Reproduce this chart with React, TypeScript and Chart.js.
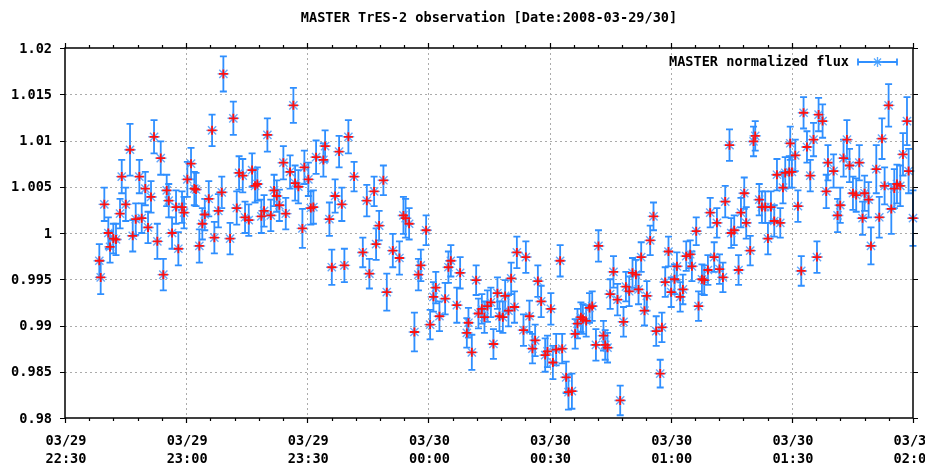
import React, { useEffect, useRef } from 'react';
import { Chart, registerables } from 'chart.js';

Chart.register(...registerables);

// Observation time, minutes after 03/29 22:30
const minutes = [
  8.50, 8.84, 9.74, 10.73, 11.15, 11.97, 12.63, 13.63, 14.05, 15.04,
  16.10, 16.77, 17.51, 18.41, 19.00, 19.89, 20.56, 21.30, 22.05, 22.87,
  23.71, 24.35, 25.19, 25.69, 26.51, 27.50, 28.07, 28.98, 29.48, 30.30,
  31.21, 32.03, 32.45, 33.27, 34.01, 34.61, 35.60, 36.42, 36.99, 37.98,
  38.82, 39.22, 40.88, 41.69, 42.53, 43.11, 44.02, 44.59, 45.51, 46.33,
  47.07, 47.64, 48.63, 49.30, 50.12, 50.96, 51.78, 52.44, 53.09, 54.08,
  54.67, 55.74, 56.56, 56.98, 57.80, 58.79, 59.28, 60.27, 60.87, 61.51,
  62.18, 63.99, 64.41, 65.48, 66.07, 66.89, 67.88, 68.55, 69.19, 70.18,
  71.59, 73.75, 74.74, 75.38, 76.55, 77.04, 77.79, 78.85, 79.69, 81.18,
  82.82, 83.81, 84.35, 85.22, 86.53, 87.52, 88.12, 89.43, 90.42, 91.24,
  91.83, 92.73, 94.14, 94.95, 95.55, 97.04, 97.85, 99.51, 99.91, 100.75,
  101.82, 102.39, 103.23, 103.87, 104.62, 105.46, 106.10, 107.09, 107.59, 108.43,
  109.00, 109.82, 110.49, 111.31, 111.90, 113.54, 114.13, 115.02, 115.76, 116.43,
  117.10, 117.92, 118.91, 119.48, 120.32, 120.82, 121.63, 122.62, 123.12, 124.11,
  124.68, 125.53, 126.34, 126.91, 127.76, 128.25, 129.07, 129.89, 130.56, 131.48,
  132.11, 133.35, 133.77, 134.35, 135.01, 135.83, 136.82, 137.49, 138.31, 138.90,
  139.72, 140.54, 141.38, 142.03, 142.69, 143.51, 144.10, 144.92, 145.74, 146.41,
  147.40, 147.82, 148.64, 149.45, 150.12, 150.94, 151.54, 152.35, 153.02, 153.84,
  154.83, 155.25, 156.32, 156.89, 157.73, 158.30, 159.21, 159.78, 160.77, 161.44,
  162.08, 162.93, 163.50, 164.56, 164.98, 165.73, 166.80, 167.39, 168.21, 168.70,
  169.69, 170.51, 170.93, 171.92, 172.59, 173.41, 174.08, 174.82, 175.64, 176.31,
  177.13, 177.80, 178.36, 179.36, 179.60, 180.02, 180.84, 181.51, 182.33, 182.90,
  183.74, 184.56, 185.37, 186.22, 186.62, 187.61, 188.52, 188.94, 190.33, 191.32,
  191.98, 192.80, 193.64, 194.28, 195.13, 195.94, 196.70, 197.51, 198.01, 199.00,
  199.59, 200.91, 201.65, 202.32, 202.97, 203.96, 204.63, 205.37, 206.03, 206.85,
  207.52, 208.51, 208.91, 209.99,
];

// MASTER normalized flux
const flux = [
  0.9970, 0.9952, 1.0031, 1.0000, 0.9985, 0.9994, 0.9993, 1.0021, 1.0061, 1.0031,
  1.0090, 0.9997, 1.0015, 1.0061, 1.0016, 1.0048, 1.0006, 1.0039, 1.0104, 0.9991,
  1.0081, 0.9955, 1.0046, 1.0035, 1.0000, 1.0028, 0.9983, 1.0028, 1.0022, 1.0058,
  1.0075, 1.0048, 1.0047, 0.9986, 1.0010, 1.0020, 1.0037, 1.0111, 0.9995, 1.0024,
  1.0044, 1.0172, 0.9994, 1.0124, 1.0027, 1.0065, 1.0062, 1.0017, 1.0014, 1.0068,
  1.0051, 1.0053, 1.0018, 1.0024, 1.0106, 1.0019, 1.0046, 1.0040, 1.0030, 1.0076,
  1.0021, 1.0066, 1.0138, 1.0054, 1.0050, 1.0005, 1.0071, 1.0058, 1.0027, 1.0028,
  1.0082, 1.0079, 1.0094, 1.0015, 0.9963, 1.0040, 1.0088, 1.0031, 0.9965, 1.0104,
  1.0061, 0.9979, 1.0035, 0.9956, 1.0045, 0.9988, 1.0008, 1.0057, 0.9936, 0.9981,
  0.9973, 1.0019, 1.0016, 1.0010, 0.9893, 0.9955, 0.9965, 1.0003, 0.9901, 0.9931,
  0.9941, 0.9910, 0.9929, 0.9963, 0.9970, 0.9922, 0.9957, 0.9892, 0.9903, 0.9871,
  0.9949, 0.9913, 0.9918, 0.9909, 0.9921, 0.9925, 0.9880, 0.9935, 0.9910, 0.9909,
  0.9932, 0.9916, 0.9951, 0.9920, 0.9979, 0.9895, 0.9974, 0.9910, 0.9875, 0.9884,
  0.9948, 0.9926, 0.9868, 0.9872, 0.9918, 0.9860, 0.9874, 0.9970, 0.9875, 0.9844,
  0.9828, 0.9829, 0.9891, 0.9902, 0.9909, 0.9907, 0.9905, 0.9919, 0.9921, 0.9879,
  0.9986, 0.9889, 0.9879, 0.9876, 0.9934, 0.9958, 0.9928, 0.9819, 0.9904, 0.9942,
  0.9937, 0.9957, 0.9955, 0.9939, 0.9974, 0.9916, 0.9932, 0.9992, 1.0018, 0.9894,
  0.9848, 0.9898, 0.9947, 0.9980, 0.9936, 0.9950, 0.9964, 0.9931, 0.9939, 0.9975,
  0.9977, 0.9964, 1.0002, 0.9921, 0.9950, 0.9949, 0.9960, 1.0022, 0.9974, 1.0011,
  0.9961, 0.9952, 1.0034, 1.0095, 1.0000, 1.0003, 0.9960, 1.0022, 1.0043, 1.0011,
  0.9981, 1.0099, 1.0105, 1.0036, 1.0028, 1.0028, 0.9994, 1.0028, 1.0013, 1.0063,
  1.0011, 1.0049, 1.0065, 1.0066, 1.0097, 1.0066, 1.0084, 1.0029, 0.9959, 1.0130,
  1.0093, 1.0062, 1.0101, 0.9974, 1.0128, 1.0121, 1.0045, 1.0076, 1.0067, 1.0019,
  1.0030, 1.0081, 1.0101, 1.0073, 1.0043, 1.0041, 1.0076, 1.0016, 1.0043, 1.0036,
  0.9986, 1.0069, 1.0017, 1.0102, 1.0051, 1.0138, 1.0026, 1.0048, 1.0053, 1.0051,
  1.0085, 1.0121, 1.0067, 1.0016,
];

// Error bar half-lengths
const fluxErr = [
  0.0018, 0.0018, 0.0018, 0.0017, 0.0017, 0.0016, 0.0017, 0.0016, 0.0018, 0.0018,
  0.0028, 0.0017, 0.0017, 0.0018, 0.0016, 0.0018, 0.0017, 0.0017, 0.0018, 0.0019,
  0.0018, 0.0017, 0.0017, 0.0018, 0.0017, 0.0018, 0.0018, 0.0017, 0.0017, 0.0019,
  0.0017, 0.0018, 0.0018, 0.0018, 0.0017, 0.0017, 0.0019, 0.0017, 0.0017, 0.0018,
  0.0017, 0.0019, 0.0017, 0.0018, 0.0018, 0.0018, 0.0018, 0.0017, 0.0017, 0.0018,
  0.0018, 0.0018, 0.0018, 0.0017, 0.0018, 0.0017, 0.0017, 0.0017, 0.0017, 0.0018,
  0.0017, 0.0018, 0.0019, 0.0019, 0.0018, 0.0021, 0.0018, 0.0018, 0.0018, 0.0018,
  0.0018, 0.0018, 0.0017, 0.0018, 0.0019, 0.0018, 0.0017, 0.0018, 0.0018, 0.0018,
  0.0016, 0.0016, 0.0017, 0.0016, 0.0016, 0.0017, 0.0016, 0.0016, 0.0020, 0.0018,
  0.0018, 0.0020, 0.0021, 0.0017, 0.0021, 0.0017, 0.0017, 0.0016, 0.0016, 0.0016,
  0.0017, 0.0016, 0.0017, 0.0017, 0.0017, 0.0019, 0.0017, 0.0016, 0.0016, 0.0019,
  0.0016, 0.0016, 0.0016, 0.0017, 0.0017, 0.0016, 0.0016, 0.0017, 0.0016, 0.0017,
  0.0017, 0.0017, 0.0017, 0.0017, 0.0017, 0.0017, 0.0017, 0.0017, 0.0016, 0.0017,
  0.0017, 0.0017, 0.0018, 0.0017, 0.0017, 0.0018, 0.0017, 0.0017, 0.0016, 0.0017,
  0.0019, 0.0019, 0.0016, 0.0016, 0.0016, 0.0016, 0.0017, 0.0016, 0.0016, 0.0017,
  0.0017, 0.0016, 0.0016, 0.0016, 0.0016, 0.0017, 0.0017, 0.0016, 0.0016, 0.0016,
  0.0016, 0.0016, 0.0016, 0.0016, 0.0016, 0.0016, 0.0016, 0.0016, 0.0015, 0.0016,
  0.0015, 0.0016, 0.0016, 0.0016, 0.0016, 0.0016, 0.0015, 0.0016, 0.0016, 0.0016,
  0.0015, 0.0016, 0.0015, 0.0016, 0.0016, 0.0016, 0.0016, 0.0016, 0.0016, 0.0016,
  0.0016, 0.0016, 0.0017, 0.0017, 0.0016, 0.0016, 0.0016, 0.0016, 0.0017, 0.0017,
  0.0016, 0.0016, 0.0016, 0.0017, 0.0017, 0.0017, 0.0017, 0.0017, 0.0017, 0.0017,
  0.0016, 0.0017, 0.0017, 0.0017, 0.0018, 0.0017, 0.0017, 0.0017, 0.0016, 0.0017,
  0.0017, 0.0017, 0.0018, 0.0017, 0.0018, 0.0018, 0.0018, 0.0019, 0.0018, 0.0018,
  0.0019, 0.0020, 0.0021, 0.0018, 0.0018, 0.0018, 0.0019, 0.0018, 0.0019, 0.0019,
  0.0020, 0.0026, 0.0022, 0.0022, 0.0020, 0.0023, 0.0027, 0.0021, 0.0021, 0.0022,
  0.0023, 0.0026, 0.0024, 0.0030,
];

const xTickMinutes = [0, 30, 60, 90, 120, 150, 180, 210];
const xTickDates = ['03/29', '03/29', '03/29', '03/30', '03/30', '03/30', '03/30', '03/30'];
const xTickTimes = ['22:30', '23:00', '23:30', '00:00', '00:30', '01:00', '01:30', '02:00'];
const xMinorPerMajor = 5;
const yTicks = [0.98, 0.985, 0.99, 0.995, 1.0, 1.005, 1.01, 1.015, 1.02];
const yTickLabels = ['0.98', '0.985', '0.99', '0.995', '1', '1.005', '1.01', '1.015', '1.02'];
const titleText = 'MASTER TrES-2 observation [Date:2008-03-29/30]';
const legendLabel = 'MASTER normalized flux';

const FONT = 'bold 13.6px "DejaVu Sans Mono", "Liberation Mono", monospace';
const BAR = '#2f8fff';

const gnuplotPlugin = {
  id: 'gnuplotFrame',
  beforeDatasetsDraw(chart: any) {
    const { ctx, chartArea: a, scales } = chart;
    const x = scales.x;
    const y = scales.y;
    ctx.save();
    // grid
    ctx.strokeStyle = '#ababab';
    ctx.lineWidth = 1;
    ctx.setLineDash([2, 3]);
    xTickMinutes.forEach((m) => {
      if (m <= x.min || m >= x.max) return;
      const px = Math.round(x.getPixelForValue(m)) + 0.5;
      ctx.beginPath();
      ctx.moveTo(px, a.top);
      ctx.lineTo(px, a.bottom);
      ctx.stroke();
    });
    yTicks.forEach((v) => {
      if (v <= y.min || v >= y.max) return;
      const py = Math.round(y.getPixelForValue(v)) + 0.5;
      ctx.beginPath();
      ctx.moveTo(a.left, py);
      ctx.lineTo(a.right, py);
      ctx.stroke();
    });
    ctx.setLineDash([]);
    // error bars
    ctx.strokeStyle = BAR;
    ctx.lineWidth = 1.8;
    for (let i = 0; i < minutes.length; i++) {
      const px = x.getPixelForValue(minutes[i]);
      const pt = y.getPixelForValue(flux[i] + fluxErr[i]);
      const pb = y.getPixelForValue(flux[i] - fluxErr[i]);
      ctx.beginPath();
      ctx.moveTo(px, pt);
      ctx.lineTo(px, pb);
      ctx.moveTo(px - 3.5, pt);
      ctx.lineTo(px + 3.5, pt);
      ctx.moveTo(px - 3.5, pb);
      ctx.lineTo(px + 3.5, pb);
      ctx.stroke();
    }
    ctx.restore();
  },
  afterDatasetsDraw(chart: any) {
    const { ctx, chartArea: a, scales } = chart;
    const x = scales.x;
    const y = scales.y;
    ctx.save();
    // frame
    ctx.strokeStyle = '#000';
    ctx.lineWidth = 1.5;
    ctx.strokeRect(a.left, a.top, a.right - a.left, a.bottom - a.top);
    ctx.lineWidth = 1.2;
    // x ticks (major & minor, bottom & top)
    for (let k = 0; k < xTickMinutes.length; k++) {
      const m = xTickMinutes[k];
      const px = Math.round(x.getPixelForValue(m)) + 0.5;
      ctx.beginPath();
      ctx.moveTo(px, a.bottom);
      ctx.lineTo(px, a.bottom + 5);
      ctx.moveTo(px, a.top);
      ctx.lineTo(px, a.top - 5);
      ctx.stroke();
      if (k < xTickMinutes.length - 1) {
        const step = (xTickMinutes[k + 1] - m) / xMinorPerMajor;
        for (let j = 1; j < xMinorPerMajor; j++) {
          const mx = Math.round(x.getPixelForValue(m + j * step)) + 0.5;
          ctx.beginPath();
          ctx.moveTo(mx, a.bottom);
          ctx.lineTo(mx, a.bottom + 3);
          ctx.moveTo(mx, a.top);
          ctx.lineTo(mx, a.top - 3);
          ctx.stroke();
        }
      }
    }
    // y ticks
    yTicks.forEach((v) => {
      const py = Math.round(y.getPixelForValue(v)) + 0.5;
      ctx.beginPath();
      ctx.moveTo(a.left - 5, py);
      ctx.lineTo(a.left, py);
      ctx.moveTo(a.right, py);
      ctx.lineTo(a.right + 5, py);
      ctx.stroke();
    });
    // labels
    ctx.fillStyle = '#000';
    ctx.font = FONT;
    ctx.textAlign = 'right';
    ctx.textBaseline = 'middle';
    yTicks.forEach((v, i) => {
      ctx.fillText(yTickLabels[i], a.left - 13, y.getPixelForValue(v) + 1);
    });
    ctx.textAlign = 'center';
    xTickMinutes.forEach((m, i) => {
      const px = x.getPixelForValue(m);
      ctx.fillText(xTickDates[i], px + 1, a.bottom + 23);
      ctx.fillText(xTickTimes[i], px + 1, a.bottom + 41);
    });
    // title
    ctx.fillText(titleText, (a.left + a.right) / 2, 18);
    // legend
    const ly = 62;
    ctx.textAlign = 'right';
    ctx.fillText(legendLabel, 849, ly);
    ctx.strokeStyle = BAR;
    ctx.lineWidth = 1.8;
    ctx.beginPath();
    ctx.moveTo(858, ly);
    ctx.lineTo(897, ly);
    ctx.moveTo(858, ly - 3.5);
    ctx.lineTo(858, ly + 3.5);
    ctx.moveTo(897, ly - 3.5);
    ctx.lineTo(897, ly + 3.5);
    ctx.stroke();
    ctx.strokeStyle = 'rgba(70,160,255,0.9)';
    ctx.lineWidth = 1.3;
    const cx = 877.5;
    const r = 5;
    ctx.beginPath();
    ctx.moveTo(cx - r, ly);
    ctx.lineTo(cx + r, ly);
    ctx.moveTo(cx, ly - r);
    ctx.lineTo(cx, ly + r);
    ctx.moveTo(cx - r * 0.707, ly - r * 0.707);
    ctx.lineTo(cx + r * 0.707, ly + r * 0.707);
    ctx.moveTo(cx - r * 0.707, ly + r * 0.707);
    ctx.lineTo(cx + r * 0.707, ly - r * 0.707);
    ctx.stroke();
    ctx.restore();
  },
};

export default function App() {
  const ref = useRef<HTMLCanvasElement | null>(null);
  useEffect(() => {
    if (!ref.current) return;
    const pts = minutes.map((m, i) => ({ x: m, y: flux[i] }));
    const chart = new Chart(ref.current, {
      type: 'scatter',
      data: {
        datasets: [
          {
            // red overlay, drawn on top (dataset 0 is drawn last)
            label: 'red',
            data: pts,
            pointStyle: 'cross',
            radius: 4.5,
            borderWidth: 1.8,
            borderColor: '#ff1010',
            backgroundColor: '#ff1010',
            clip: false as any,
          },
          {
            label: legendLabel,
            data: pts,
            pointStyle: 'star',
            radius: 5.8,
            borderWidth: 1.4,
            borderColor: 'rgba(80,160,255,0.9)',
            backgroundColor: 'rgba(80,160,255,0.9)',
            clip: false as any,
          },
        ],
      },
      options: {
        responsive: false,
        animation: false,
        events: [],
        layout: { padding: { left: 65, right: 12, top: 48, bottom: 47 } },
        scales: {
          x: { type: 'linear', min: 0, max: 210, display: false },
          y: { type: 'linear', min: 0.98, max: 1.02, display: false },
        },
        plugins: {
          legend: { display: false },
          tooltip: { enabled: false },
          title: { display: false },
        },
      },
      plugins: [gnuplotPlugin],
    });
    return () => chart.destroy();
  }, []);
  return (
    <div style={{ position: 'absolute', left: 0, top: 0, width: 925, height: 465, background: '#fff' }}>
      <canvas ref={ref} width={925} height={465} style={{ display: 'block' }} />
    </div>
  );
}
